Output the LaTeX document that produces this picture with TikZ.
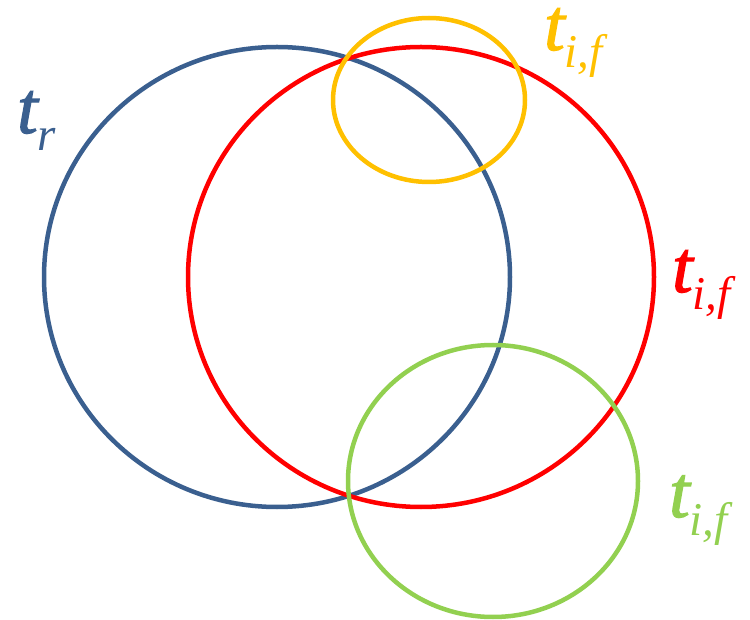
\documentclass[tikz,border=0pt]{standalone}
\usepackage{fontspec}
\setmainfont{Liberation Serif}
\newfontfamily\tfont[FakeBold=1.6]{Liberation Serif Italic}
\definecolor{cblue}{HTML}{3A5F8F}
\definecolor{cred}{HTML}{FF0000}
\definecolor{cyel}{HTML}{FFC000}
\definecolor{cgreen}{HTML}{92D050}
\newcommand{\tlab}[1]{{\fontsize{74}{74}\tfont t}\raisebox{-18pt}{\fontsize{47}{47}\selectfont\itshape #1}}
\begin{document}
\begin{tikzpicture}[x=1pt,y=-1pt,
  ring/.style={line width=4.5pt},
  lab/.style={anchor=base west,inner sep=0pt,text height=44pt,text depth=32pt}]
\useasboundingbox (0,0) rectangle (750,620);
\draw[ring,cblue] (277,277) ellipse[x radius=233,y radius=230];
\draw[ring,cred] (421,277) ellipse[x radius=233,y radius=230];
\draw[ring,cyel] (429,100) ellipse[x radius=96,y radius=82];
\draw[ring,cgreen] (493,481) ellipse[x radius=145,y radius=136];
\node[lab,text=cblue] (lr) at (17,133) {\tlab{r}};
\node[lab,text=cyel] (ly) at (544,50) {\tlab{i,f}};
\node[lab,text=cred] (lred) at (672,292) {\tlab{i,f}};
\node[lab,text=cgreen] (lg) at (669,517) {\tlab{i,f}};
\end{tikzpicture}
\end{document}
